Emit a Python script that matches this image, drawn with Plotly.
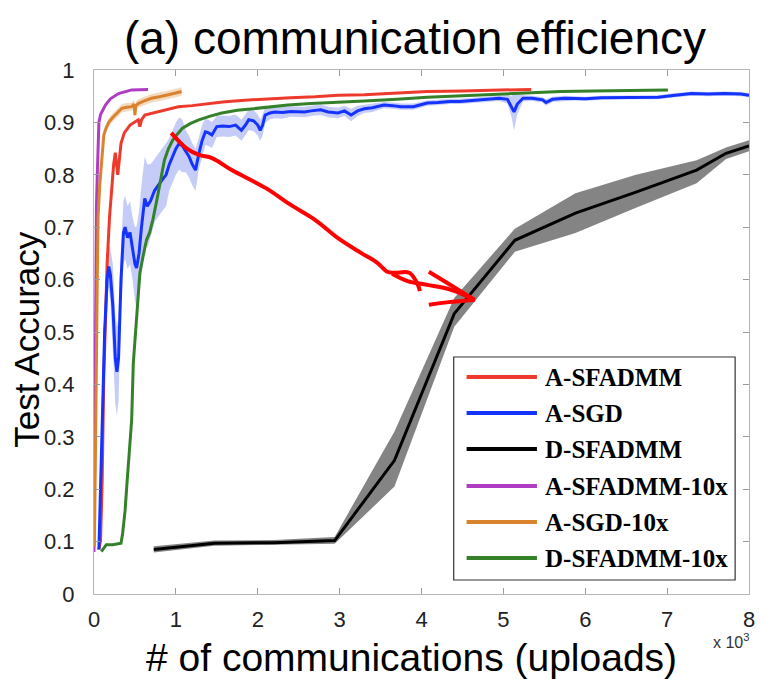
import plotly.graph_objects as go

# ---------------- data (x in thousands of uploads) ----------------
series_names = ["A-SFADMM", "A-SGD", "D-SFADMM", "A-SFADMM-10x", "A-SGD-10x", "D-SFADMM-10x"]
series_colors = ["#ee3a2c", "#1433ff", "#000000", "#b03cc4", "#d9832f", "#35812a"]

a_sfadmm_x = [0.06, 0.08, 0.10, 0.12, 0.14, 0.16, 0.19, 0.22, 0.24, 0.26, 0.29, 0.33, 0.37, 0.44,
              0.50, 0.54, 0.56, 0.58, 0.62, 0.70, 0.78, 0.90, 1.03, 1.20, 1.40, 1.57, 1.80, 2.00,
              2.17, 2.40, 2.70, 2.98, 3.30, 3.60, 4.07, 4.50, 4.90, 5.34]
a_sfadmm_y = [0.085, 0.103, 0.218, 0.42, 0.52, 0.63, 0.72, 0.79, 0.82, 0.842, 0.80, 0.86, 0.88, 0.895,
              0.901, 0.905, 0.892, 0.905, 0.914, 0.917, 0.920, 0.925, 0.930, 0.932, 0.936, 0.939, 0.942, 0.944,
              0.946, 0.947, 0.949, 0.952, 0.953, 0.955, 0.959, 0.960, 0.962, 0.963]

a_sgd_x = [0.06, 0.08, 0.10, 0.13, 0.16, 0.18, 0.20, 0.23, 0.26, 0.28, 0.30, 0.33, 0.36, 0.38, 0.41,
           0.44, 0.47, 0.50, 0.52, 0.55, 0.58, 0.62, 0.65, 0.69, 0.74, 0.78, 0.83, 0.88, 0.92, 0.96,
           1.00, 1.04, 1.08, 1.12, 1.16, 1.20, 1.24, 1.28, 1.32, 1.36, 1.40, 1.44, 1.50, 1.57, 1.65,
           1.73, 1.80, 1.85, 1.89, 1.95, 2.00, 2.03, 2.06, 2.09, 2.15, 2.21, 2.30, 2.40, 2.50, 2.57,
           2.65, 2.77, 2.86, 2.98, 3.06, 3.14, 3.22, 3.30, 3.40, 3.54, 3.65, 3.75, 3.90, 4.07, 4.20,
           4.35, 4.47, 4.60, 4.75, 4.95, 5.05, 5.10, 5.13, 5.17, 5.24, 5.35, 5.48, 5.52, 5.60, 5.75,
           5.88, 6.00, 6.20, 6.49, 6.70, 6.89, 7.10, 7.30, 7.50, 7.70, 7.90, 8.00]
a_sgd_y = [0.085, 0.20, 0.33, 0.50, 0.60, 0.625, 0.61, 0.55, 0.45, 0.424, 0.45, 0.60, 0.69, 0.70, 0.68,
           0.69, 0.66, 0.63, 0.622, 0.65, 0.70, 0.755, 0.74, 0.75, 0.77, 0.78, 0.79, 0.80, 0.82, 0.835,
           0.85, 0.86, 0.855, 0.845, 0.835, 0.82, 0.809, 0.84, 0.865, 0.882, 0.88, 0.876, 0.892, 0.893, 0.892,
           0.895, 0.885, 0.895, 0.905, 0.903, 0.895, 0.885, 0.895, 0.914, 0.918, 0.920, 0.919, 0.921, 0.920, 0.920,
           0.922, 0.924, 0.920, 0.918, 0.922, 0.914, 0.922, 0.926, 0.928, 0.933, 0.932, 0.930, 0.930, 0.937, 0.938,
           0.940, 0.940, 0.942, 0.944, 0.946, 0.944, 0.930, 0.920, 0.935, 0.946, 0.946, 0.943, 0.938, 0.944, 0.946,
           0.946, 0.945, 0.947, 0.948, 0.948, 0.948, 0.952, 0.955, 0.954, 0.955, 0.954, 0.952]
a_sgd_spread = [0.01, 0.01, 0.01, 0.04, 0.04, 0.04, 0.05, 0.08, 0.085, 0.085, 0.08, 0.06, 0.06, 0.06, 0.06,
                0.06, 0.06, 0.07, 0.08, 0.08, 0.08, 0.08, 0.08, 0.07, 0.06, 0.06, 0.06, 0.06, 0.05, 0.05,
                0.05, 0.05, 0.05, 0.04, 0.04, 0.04, 0.04, 0.03, 0.03, 0.025, 0.025, 0.025, 0.02, 0.02, 0.02,
                0.02, 0.02, 0.02, 0.02, 0.02, 0.02, 0.02, 0.02, 0.015, 0.012, 0.012, 0.012, 0.01, 0.01, 0.01,
                0.01, 0.01, 0.01, 0.01, 0.01, 0.012, 0.01, 0.008, 0.008, 0.006, 0.006, 0.006, 0.006, 0.005, 0.005,
                0.005, 0.005, 0.005, 0.005, 0.005, 0.008, 0.02, 0.035, 0.02, 0.006, 0.005, 0.005, 0.006, 0.005, 0.005,
                0.004, 0.004, 0.004, 0.004, 0.004, 0.004, 0.004, 0.004, 0.004, 0.004, 0.004, 0.004]

d_sfadmm_x = [0.73, 1.47, 2.20, 2.94, 3.67, 4.40, 5.14, 5.88, 6.62, 7.36, 7.72, 8.00]
d_sfadmm_y = [0.085, 0.097, 0.098, 0.102, 0.255, 0.535, 0.675, 0.727, 0.767, 0.809, 0.841, 0.855]
d_sfadmm_lo = [0.079, 0.092, 0.094, 0.096, 0.205, 0.510, 0.653, 0.689, 0.737, 0.784, 0.830, 0.845]
d_sfadmm_hi = [0.091, 0.102, 0.103, 0.109, 0.310, 0.565, 0.697, 0.765, 0.800, 0.828, 0.852, 0.866]

a_sfadmm10_x = [0.00, 0.01, 0.02, 0.03, 0.04, 0.06, 0.08, 0.11, 0.14, 0.20, 0.30, 0.46, 0.55, 0.66]
a_sfadmm10_y = [0.08, 0.30, 0.62, 0.74, 0.80, 0.90, 0.915, 0.925, 0.933, 0.945, 0.955, 0.962, 0.963, 0.963]

a_sgd10_x = [0.005, 0.01, 0.02, 0.03, 0.04, 0.05, 0.07, 0.08, 0.10, 0.12, 0.15, 0.18, 0.22, 0.26,
             0.30, 0.34, 0.40, 0.46, 0.49, 0.50, 0.51, 0.54, 0.60, 0.70, 0.80, 0.90, 1.00, 1.07]
a_sgd10_y = [0.09, 0.20, 0.32, 0.45, 0.60, 0.72, 0.78, 0.80, 0.85, 0.876, 0.89, 0.90, 0.908, 0.914,
             0.920, 0.927, 0.929, 0.930, 0.935, 0.914, 0.932, 0.936, 0.940, 0.946, 0.949, 0.952, 0.956, 0.959]

d_sfadmm10_x = [0.09, 0.15, 0.23, 0.33, 0.35, 0.38, 0.40, 0.43, 0.46, 0.48, 0.52, 0.56, 0.60, 0.64,
                0.68, 0.72, 0.76, 0.81, 0.86, 0.91, 0.96, 1.02, 1.08, 1.18, 1.28, 1.42, 1.56, 1.75,
                1.97, 2.17, 2.37, 2.65, 2.98, 3.30, 3.70, 4.07, 4.50, 4.90, 5.28, 5.70, 6.09, 6.50, 7.01]
d_sfadmm10_y = [0.081, 0.094, 0.094, 0.097, 0.116, 0.16, 0.205, 0.27, 0.332, 0.44, 0.536, 0.612, 0.645, 0.675,
                0.69, 0.715, 0.746, 0.79, 0.828, 0.85, 0.866, 0.878, 0.889, 0.898, 0.905, 0.912, 0.918, 0.923,
                0.927, 0.930, 0.933, 0.936, 0.938, 0.941, 0.944, 0.948, 0.951, 0.954, 0.957, 0.959, 0.960, 0.961, 0.962]

# hand-drawn red arrow (shaft with hook, then the head strokes)
arrow_shaft_x = [0.944, 1.126, 1.283, 1.441, 1.683, 2.094, 2.409, 2.70, 2.98, 3.26, 3.46, 3.58, 3.67, 3.85, 3.95, 3.98]
arrow_shaft_y = [0.880, 0.851, 0.838, 0.832, 0.809, 0.775, 0.742, 0.714, 0.679, 0.651, 0.632, 0.615, 0.613, 0.613, 0.592, 0.578]
arrow_tail_x = [3.64, 3.83, 4.07, 4.37, 4.65]
arrow_tail_y = [0.611, 0.597, 0.590, 0.580, 0.561]
arrow_head_up_x = [4.09, 4.31, 4.65]
arrow_head_up_y = [0.615, 0.594, 0.561]
arrow_head_lo_x = [4.09, 4.33, 4.65]
arrow_head_lo_y = [0.552, 0.557, 0.561]

x_ticks = [0, 1, 2, 3, 4, 5, 6, 7, 8]
y_ticks = [0, 0.1, 0.2, 0.3, 0.4, 0.5, 0.6, 0.7, 0.8, 0.9, 1]
y_tick_text = ["0", "0.1", "0.2", "0.3", "0.4", "0.5", "0.6", "0.7", "0.8", "0.9", "1"]

# ---------------- figure ----------------
W, H = 765, 679
ML, MR, MT, MB = 94, 10, 70, 85
PW, PH = W - ML - MR, H - MT - MB


def px(xp):
    return (xp - ML) / PW


def py(yp):
    return (H - MB - yp) / PH


SANS = "Liberation Sans, Arial, Helvetica, sans-serif"
SERIF = "Liberation Serif, Times New Roman, serif"

fig = go.Figure()


def band(x, lo, hi, color):
    fig.add_trace(go.Scatter(x=x, y=hi, mode="lines", line=dict(width=0), showlegend=False, hoverinfo="skip"))
    fig.add_trace(go.Scatter(x=x, y=lo, mode="lines", line=dict(width=0), fill="tonexty",
                             fillcolor=color, showlegend=False, hoverinfo="skip"))


# shaded spreads
band(a_sgd_x, [v - s for v, s in zip(a_sgd_y, a_sgd_spread)],
     [v + s for v, s in zip(a_sgd_y, a_sgd_spread)], "rgba(90,110,235,0.35)")
band(d_sfadmm_x, d_sfadmm_lo, d_sfadmm_hi, "rgba(110,110,110,0.85)")
band(a_sgd10_x, [v - 0.008 for v in a_sgd10_y], [v + 0.008 for v in a_sgd10_y], "rgba(217,131,47,0.3)")

curves = [
    (a_sfadmm_x, a_sfadmm_y),
    (a_sgd_x, a_sgd_y),
    (d_sfadmm_x, d_sfadmm_y),
    (a_sfadmm10_x, a_sfadmm10_y),
    (a_sgd10_x, a_sgd10_y),
    (d_sfadmm10_x, d_sfadmm10_y),
]
for (x, y), name, color in zip(curves, series_names, series_colors):
    fig.add_trace(go.Scatter(x=x, y=y, mode="lines", name=name,
                             line=dict(color=color, width=3), showlegend=False))

for ax_, ay_ in [(arrow_shaft_x, arrow_shaft_y), (arrow_tail_x, arrow_tail_y),
                 (arrow_head_up_x, arrow_head_up_y), (arrow_head_lo_x, arrow_head_lo_y)]:
    fig.add_trace(go.Scatter(x=ax_, y=ay_, mode="lines", line=dict(color="#ff0000", width=4, shape="spline"),
                             showlegend=False, hoverinfo="skip"))

# legend box drawn by hand so the sample lines are long
shapes = [dict(type="rect", xref="paper", yref="paper", x0=px(457), x1=px(741), y0=py(580), y1=py(357),
               line=dict(color="#333333", width=1.2), fillcolor="white", layer="above")]
annotations = []
row_y = [377, 413, 449, 486, 522, 558]
for name, color, yy in zip(series_names, series_colors, row_y):
    shapes.append(dict(type="line", xref="paper", yref="paper", x0=px(470), x1=px(541), y0=py(yy), y1=py(yy),
                       line=dict(color=color, width=4), layer="above"))
    annotations.append(dict(xref="paper", yref="paper", x=px(547), y=py(yy), text="<b>%s</b>" % name,
                            showarrow=False, xanchor="left", yanchor="middle",
                            font=dict(family=SERIF, size=25, color="black")))

# axis titles and the x-scale factor
annotations.append(dict(xref="paper", yref="paper", x=px(414), y=py(657), text="# of communications (uploads)",
                        showarrow=False, xanchor="center", yanchor="middle",
                        font=dict(family=SANS, size=39, color="black")))
annotations.append(dict(xref="paper", yref="paper", x=px(25), y=py(340), text="Test Accuracy", textangle=-90,
                        showarrow=False, xanchor="center", yanchor="middle",
                        font=dict(family=SANS, size=35, color="black")))
annotations.append(dict(xref="paper", yref="paper", x=px(757), y=py(641), text="x 10<sup>3</sup>",
                        showarrow=False, xanchor="right", yanchor="middle",
                        font=dict(family=SANS, size=16, color="#333333")))

axis_common = dict(showline=True, mirror="ticks", linecolor="#b5b5b5", linewidth=1,
                   ticks="inside", ticklen=6, tickcolor="#9a9a9a", showgrid=False, zeroline=False,
                   tickfont=dict(family=SANS, size=22, color="#222222"))

fig.update_layout(
    width=W, height=H,
    margin=dict(l=ML, r=MR, t=MT, b=MB),
    paper_bgcolor="white", plot_bgcolor="white",
    title=dict(text="(a) communication efficiency", x=415 / W, y=1 - 38 / H, xanchor="center",
               yanchor="middle", font=dict(family=SANS, size=46, color="black")),
    xaxis=dict(range=[0, 8], tickvals=x_ticks, ticktext=[str(v) for v in x_ticks],
               ticklabelstandoff=6, **axis_common),
    yaxis=dict(range=[0, 1], tickvals=y_ticks, ticktext=y_tick_text,
               ticklabelstandoff=14, **axis_common),
    shapes=shapes,
    annotations=annotations,
)

fig.write_html("out.html")
